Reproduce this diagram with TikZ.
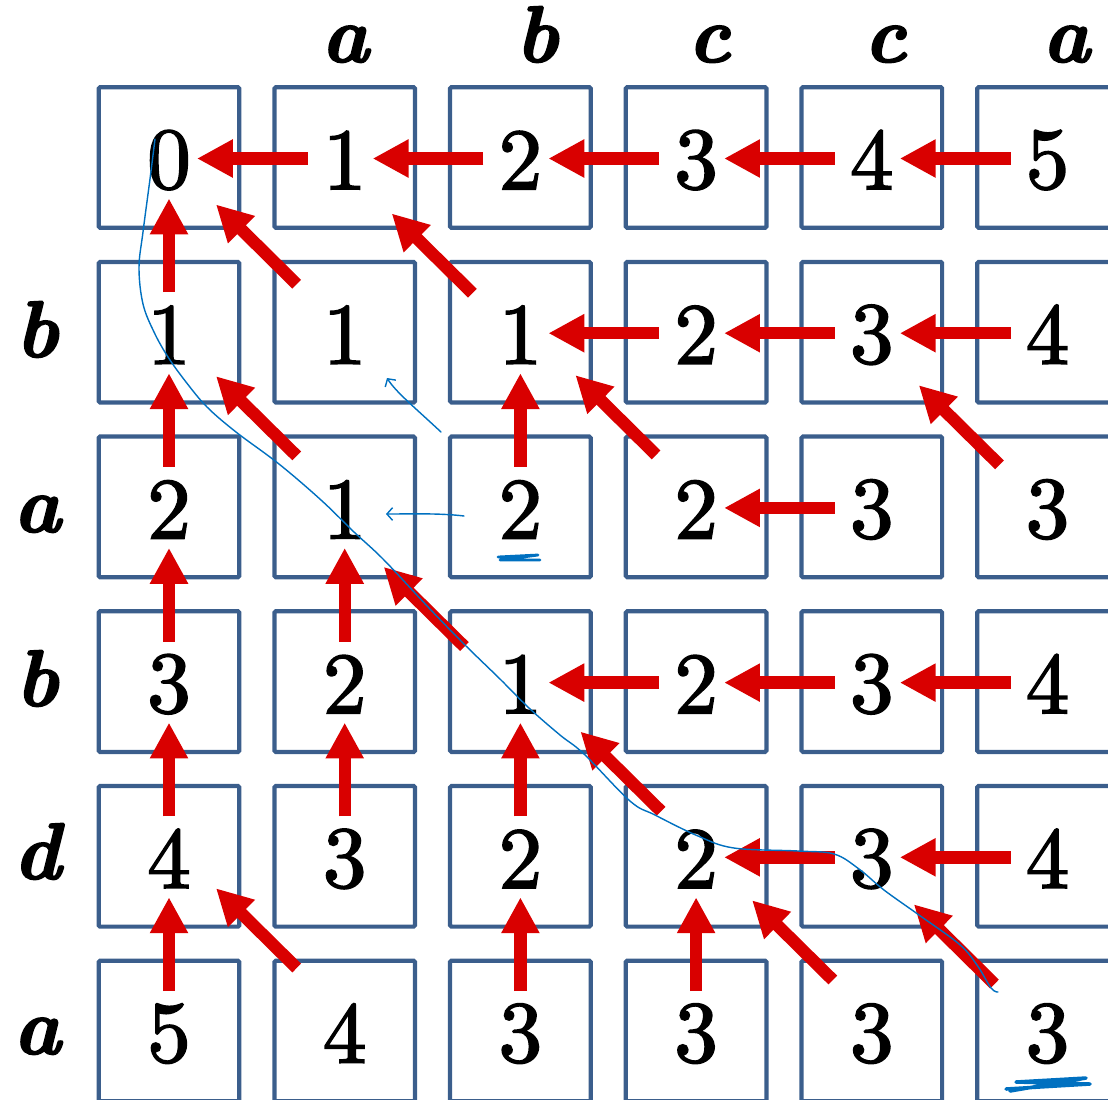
\documentclass[tikz,border=0pt]{standalone}
\usepackage{fontspec}
\usepackage{tikz}
\usetikzlibrary{arrows.meta,calc,positioning}
\newfontfamily\digitfont{lmroman10-regular.otf}[FakeBold=2]
\newfontfamily\labelfont{lmroman10-bolditalic.otf}[FakeBold=2]
\definecolor{boxblue}{RGB}{59,94,140}
\definecolor{arrowred}{RGB}{217,0,0}
\definecolor{inkblue}{RGB}{0,112,192}
\tikzset{
    mycell/.style={draw=boxblue,line width=3pt,rounded corners=1pt,minimum width=100pt,minimum height=100pt,inner sep=0pt,font=\digitfont\fontsize{62}{62}\selectfont,text height=45pt},
    myarrow/.style={draw=arrowred,line width=8.8pt,-{Triangle[width=25.5pt,length=25.5pt]}},
    mylabel/.style={font=\labelfont\fontsize{57}{57}\selectfont,anchor=base,inner sep=0pt},
    mypen/.style={draw=inkblue,line width=1pt,line cap=round,line join=round}
}

\begin{document}
\begin{tikzpicture}[x=0.025cm,y=-0.025cm]
  \useasboundingbox (0,0) rectangle (1108,1099);
  \clip (0,0) rectangle (1108,1099);

  % table cells
  \foreach \vals [count=\r] in {{0,1,2,3,4,5},{1,1,1,2,3,4},{2,1,2,2,3,3},{3,2,1,2,3,4},{4,3,2,2,3,4},{5,4,3,3,3,3}}{
    \foreach \v [count=\c] in \vals {
      \node[mycell] (n-\r-\c) at ({169+(\c-1)*175.7},{157.5+(\r-1)*174.7}) {\v};
    }
  }

  % string labels
  \foreach \x/\lab [count=\i from 2] in {345/a,537/b,709/c,885/c,1066/a}{
    \node[mylabel] (col-\i) at (\x,62) {\lab};
  }
  \foreach \y/\lab [count=\i from 2] in {357/b,532/a,706/b,879/d,1054/a}{
    \node[mylabel] (row-\i) at (37,\y) {\lab};
  }

  % horizontal arrows
  \foreach \r/\c in {1/2,1/3,1/4,1/5,1/6,2/4,2/5,2/6,3/5,4/4,4/5,4/6,5/5,5/6}{
    \pgfmathtruncatemacro{\p}{\c-1}
    \draw[myarrow] ($(n-\r-\c)+(-37,1)$) -- ($(n-\r-\p)+(28,1)$);
  }
  % vertical arrows
  \foreach \r/\c in {2/1,3/1,3/3,4/1,4/2,5/1,5/2,5/3,6/1,6/3,6/4}{
    \pgfmathtruncatemacro{\q}{\r-1}
    \draw[myarrow] ($(n-\r-\c)+(0,-40)$) -- ($(n-\q-\c)+(0,41)$);
  }
  % diagonal arrows
  \foreach \r/\c/\dx/\dy in {2/2/0/0,2/3/0/9,3/2/0/-3,3/4/8/-4,3/6/0/6,4/3/-8/13,5/4/13/3,6/2/0/-15,6/5/9/-3,6/6/-5/1}{
    \pgfmathtruncatemacro{\q}{\r-1}
    \pgfmathtruncatemacro{\p}{\c-1}
    \draw[myarrow] ($(n-\r-\c)+(-48+\dx,-48+\dy)$) -- ($(n-\q-\p)+(47+\dx,47+\dy)$);
  }

  % ink: traceback path
  \draw[mypen] plot[smooth,tension=0.6] coordinates {
    (155,139) (150,179) (143,232) (139,268) (143,304) (154,332) (168,357)
    (186,382) (207,407) (236,432) (279,464) (321,500) (354,532) (384,560)
    (429,608) (464,644) (500,679) (529,708) (560,735) (584,754) (630,801)
    (655,815) (698,836) (734,848) (798,851) (834,854) (859,869) (884,890)
    (919,915) (959,944) (977,965) (991,988) (998,992)};

  % ink: small arrows
  \draw[mypen,-{Straight Barb[length=4pt,width=9pt]}] (441,432) .. controls (412,405) and (396,392) .. (387,378);
  \draw[mypen,-{Straight Barb[length=4pt,width=9pt]}] (464,516) .. controls (440,513) and (410,514) .. (386,514);

  % ink: underlines
  \draw[mypen,line width=2pt] (498,557) -- (538,555) -- (500,560) -- (540,560);
  \draw[mypen,line width=2.5pt] (1006,1089) -- (1090,1084) -- (1016,1082) -- (1086,1078) -- (1010,1091);
\end{tikzpicture}
\end{document}
